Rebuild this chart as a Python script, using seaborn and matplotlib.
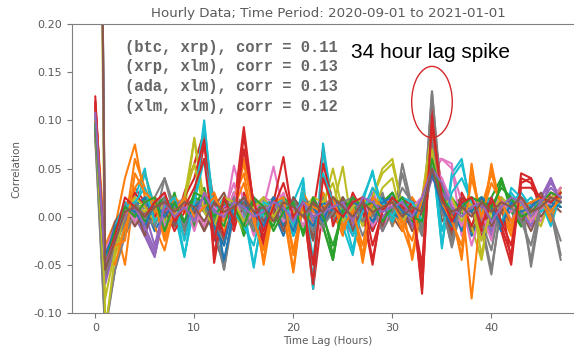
import numpy as np
import pandas as pd
import seaborn as sns
import matplotlib
matplotlib.use("Agg")
import matplotlib.pyplot as plt
from matplotlib.patches import Ellipse

# cross-correlation by lag (hours 0..47), values in thousandths
btc_btc = [1000, -50, -20, -10, 5, 10, -15, 5, 20, -10, 15, 10, -20, -50, 5, 20,
           -10, 15, 5, -20, 10, 5, -15, 25, -5, 15, -10, 5, 20, -15, 10, 5,
           -10, 5, 50, 10, -5, 15, -20, 5, -15, 10, 20, -10, 5, 15, -5, 20]
btc_eth = [105, -40, -10, 40, 75, 20, -10, -35, 10, 15, -5, 25, 5, -15, 10, 60,
           15, -50, 10, 5, -58, 20, -10, 15, 5, -20, 15, -48, 10, 20, -10, 15,
           -45, 10, 75, 20, 5, -45, 55, -10, 55, 5, -20, 15, 10, -5, 20, 25]
btc_xrp = [95, -55, -25, -5, 10, 5, 15, -5, 25, -15, 10, 30, -10, 5, 15, -20,
           10, 20, -5, 15, 5, -15, 10, -10, -45, 15, 5, 20, -10, 5, 15, -5,
           10, -15, 50, 25, -10, 5, 15, 20, -5, 40, 10, -10, 15, 5, 20, 10]
btc_ada = [125, -60, -30, 10, 30, 15, -5, 20, -10, 25, 55, 88, -48, 10, -15, 25,
           5, -30, 20, 10, -10, 15, -75, 10, 20, -10, 25, 5, -50, 15, 10, -5,
           20, -80, 115, 10, -15, 25, 5, -20, 10, -15, -50, 40, 35, 10, 20, 15]
btc_xlm = [110, -45, -15, 5, 0, -20, -42, 10, 5, 15, -10, 20, 10, -5, 25, 0,
           15, -10, 5, 20, -15, 10, 5, -5, 15, 0, -20, 10, 25, -10, 5, 20,
           -5, 15, 40, 30, 0, -10, 20, 5, -20, 15, 5, 10, -10, 20, 40, 15]
eth_btc = [90, -35, -10, 0, 15, -10, 5, 20, -5, 10, 20, -15, 5, -25, 15, 10,
           -5, 20, 0, -10, 15, 5, -20, 10, 5, 15, -10, 20, -5, 10, 0, -15,
           15, 5, 60, -5, 10, 20, -15, 5, 10, -10, 20, 5, -15, 10, 15, 5]
eth_eth = [1000, -45, -25, 5, -10, 20, 10, -15, 15, 5, -10, 20, 10, -5, 53, 15,
           -20, 10, 5, 25, -10, 15, 5, -15, 20, 10, -15, 5, 30, -5, 15, 0,
           -10, 20, 45, 60, 55, -20, 10, -25, 15, 5, -10, 20, 10, -5, 15, 30]
eth_xrp = [85, -115, -55, -15, 10, -5, 20, 40, 0, -20, 15, 10, 25, -55, 5, 15,
           -10, 5, 20, -5, 15, 0, -15, 20, -5, 15, 10, -20, 5, 25, -10, 55,
           10, -15, 130, 15, -32, 10, 5, -10, -60, 15, 5, 20, -52, 10, 5, -45]
eth_ada = [100, -50, -20, 10, -5, 15, 5, -10, 20, 5, 82, 15, -10, 10, 5, -15,
           15, 0, 10, -10, 20, 5, -5, 15, 10, 52, -15, 5, 20, 50, 60, 10,
           -5, 15, 95, 20, 0, 15, -10, -45, 10, 20, -5, 15, 5, -10, 20, 25]
eth_xlm = [100, -40, -15, 0, 20, 50, -10, 15, 5, -42, 20, 100, -5, 15, 10, 5,
           -53, 10, 20, -5, 15, 40, -75, 76, 5, -10, -40, 15, 48, -5, 10, 20,
           5, 10, 70, -33, 45, 60, 5, 15, 10, -15, 30, 20, 5, 15, -10, 25]
xrp_btc = [95, -50, -20, 5, 10, -15, 5, 20, -10, 15, 0, 20, -15, -50, 10, 5,
           20, -5, 15, 10, -20, 5, 15, -10, 10, -5, 20, 5, -15, 10, 25, 0,
           -10, 20, 55, 5, 10, -15, 20, 10, 5, -15, 10, 20, -5, 15, 10, 20]
xrp_eth = [115, -30, -5, -50, 30, 45, 10, -20, 15, 5, -10, 25, 10, -5, 20, 45,
           -10, 15, 5, 20, -40, 10, -5, 25, 0, 15, -10, -40, 5, 20, 10, -15,
           20, 5, 65, 15, -10, 20, -85, 10, 45, 10, -10, 15, 5, 20, -5, 30]
xrp_xrp = [1000, -60, -15, 10, -5, 20, 15, -10, 5, 20, -10, 15, 5, -10, 25, 10,
           -15, 5, 20, 10, -5, 15, 0, -10, -45, 20, 5, 10, -10, 15, 25, 5,
           -5, 10, 50, 15, 20, 5, -10, 15, 20, 40, 5, -10, 15, 10, 25, 20]
xrp_ada = [120, -55, -25, 15, 5, -10, 20, 10, -15, 5, 20, 75, 15, -20, 10, 93,
           10, -20, 5, 15, -10, 20, 5, 70, -10, 15, 5, 20, -15, 10, 5, 20,
           10, -60, 110, 25, 0, 15, -10, 20, 5, 15, -45, 45, 40, 5, 25, 20]
xrp_xlm = [105, -45, -20, 0, 15, 5, -30, 10, 15, -5, 10, 20, -5, 15, 5, 10,
           -5, 15, 10, -10, 5, 20, -5, 10, 20, 5, -10, 15, 10, -5, 20, 5,
           15, 10, 45, 30, 5, -5, 15, 10, -10, 20, 10, -5, 15, 5, 40, 15]
ada_btc = [90, -40, -5, 10, -10, 5, 15, 0, 10, -5, 15, 5, -10, 20, 0, 15,
           5, -10, 15, 10, -5, 10, 15, -5, 10, 20, -5, 5, 15, -10, 5, 10,
           0, 15, 55, 10, -5, 15, 5, -10, 15, 5, -5, 20, 10, 0, 15, 10]
ada_eth = [100, -35, -10, 5, 20, -5, 10, 25, -5, 15, 10, -10, 20, 5, 35, -5,
           20, 10, 52, 5, -15, 15, 10, -5, 15, -10, 20, 5, 10, -15, 15, 5,
           10, 20, 60, 60, 50, 15, -30, 5, 10, 20, -5, 15, 10, 5, 20, 30]
ada_xrp = [80, -120, -55, -20, 5, 15, -5, 40, 10, -15, 20, 5, -10, -55, 15, 10,
           -10, 20, 5, 10, -15, 5, 20, -5, 15, -10, 5, 20, 0, 15, -5, 45,
           5, -20, 130, 10, -30, 20, 5, -5, -55, 10, 20, 5, -45, 15, 10, -40]
ada_ada = [1000, -120, -40, -10, 15, 5, 20, -5, 10, 20, 80, 10, -5, 15, 20, -10,
           10, 15, -5, 20, 5, -10, 15, 10, 50, 5, 15, -10, 20, 45, 55, 10,
           5, 20, 90, 15, 10, 5, 20, -40, 15, 5, 20, 10, -5, 20, 15, 30]
ada_xlm = [100, -50, -10, 15, 5, 45, 10, -10, 15, -40, 10, 95, 5, 20, -5, 10,
           -50, 5, 15, 10, -20, 35, -70, 70, 10, 5, -35, 20, 45, 10, -5, 15,
           10, 5, 65, -30, 40, 55, 10, 20, 15, -10, 25, 10, 20, 5, 15, 20]
xlm_btc = [95, -45, -10, 0, 10, 20, -5, 10, 20, -10, 5, 15, 10, -45, 5, 20,
           -5, 10, 15, -10, 20, 5, -10, 15, 5, 15, 0, 10, -10, 20, 5, -5,
           15, 10, 50, 5, -5, 20, 10, 5, 15, -5, 10, 20, 5, 15, 10, 15]
xlm_eth = [110, -35, -50, -10, 60, 30, 5, -15, 20, 10, -5, 15, 25, 0, 15, 55,
           5, -45, 20, 10, -55, 25, 5, 10, 15, -15, 10, -40, 15, 5, 20, -10,
           -40, 15, 70, 10, 0, -40, 50, -5, 50, 10, -15, 20, 5, 15, 0, 25]
xlm_xrp = [100, -60, -20, 5, 15, -5, 10, 20, 10, -10, 20, 15, -5, 10, 20, -15,
           15, 5, -10, 20, 10, -10, 15, 5, -40, 10, 15, -5, 20, 10, 0, 15,
           5, -10, 55, 30, -5, 15, 10, 20, 5, 35, 15, -5, 10, 20, 15, 25]
xlm_ada = [115, -65, -35, 5, 25, 10, 0, 15, -5, 20, 40, 80, -40, 15, -10, 85,
           10, -25, 15, 62, -5, 10, -70, 55, 15, -5, 20, 10, -45, 10, 15, 0,
           15, -75, 105, 15, -10, 20, 10, -15, 15, -10, -40, 35, 40, 15, 20, 20]
xlm_xlm = [1000, -70, -30, 0, 10, -15, -40, 5, 10, 20, -5, 15, 5, 10, 20, -5,
           10, -5, 20, 15, -10, 5, 10, 0, 15, 10, -15, 5, 20, 0, 10, 15,
           -10, 5, 40, 25, 10, -5, 15, 0, -15, 10, 15, 5, -10, 20, 35, 20]
btc_ltc = [88, -40, -15, 5, 10, -20, 15, 5, -10, 20, 5, -15, 10, 25, -5, 10,
           15, -5, 10, -15, 20, 5, -25, 10, 0, 20, -15, 10, 5, -10, 20, 10,
           -15, 5, 45, 15, -20, 10, 5, 15, -10, 5, 20, -5, 10, 25, 5, 15]
eth_ltc = [105, -55, -20, 10, -5, 15, 20, -10, 5, 15, -15, 20, 10, 0, 25, -10,
           5, 20, 15, -5, 10, -10, 20, 5, 15, -5, 10, 20, -10, 5, 15, -5,
           10, 20, 55, 40, 15, -10, 20, 5, -25, 15, 5, 20, -5, 10, 15, 30]
xrp_ltc = [92, -60, -30, -5, 15, 0, -10, 20, 5, -10, 15, 10, -5, -30, 20, 5,
           -15, 10, 15, 0, -10, 20, 10, -10, 5, 15, 20, -5, 10, -15, 5, 30,
           15, -10, 80, 5, -25, 15, 10, -5, -35, 20, 10, -5, -30, 15, 5, -25]
ada_ltc = [98, -85, -35, 5, 20, 10, -5, 15, 0, 20, 55, 5, -10, 20, 15, -5,
           10, 20, 0, 15, -10, 5, 20, 15, 35, -5, 10, 20, 5, 30, 40, -5,
           10, 15, 70, 10, 20, -5, 15, -25, 5, 20, 10, 15, 0, 15, 20, 25]
xlm_ltc = [102, -45, -20, 10, 15, 30, -5, 10, 20, -25, 15, 60, 0, 15, 5, -10,
           -30, 15, 10, 20, -10, 25, -45, 45, 15, 10, -20, 5, 30, 15, 0, 20,
           15, -5, 60, -15, 25, 40, 15, 5, 20, -5, 15, 25, 10, 20, 5, 15]
ltc_btc = [96, -40, -15, 10, 5, -10, 15, 0, 15, -5, 10, 20, -10, -30, 15, 10,
           5, -10, 20, 5, -15, 15, 10, -5, 20, 0, 15, 10, -5, 15, 20, 5,
           0, 10, 45, 10, -10, 15, 5, 20, 10, -10, 15, 5, 10, 20, 15, 10]
ltc_eth = [100, -45, -30, -25, 45, 25, 15, -25, 5, 20, 0, 10, 20, 5, 10, 35,
           -5, -35, 15, 20, -35, 15, 10, 5, 20, -10, 5, -30, 20, 10, 15, -5,
           -25, 20, 60, 15, -5, -30, 40, 0, 35, 15, -5, 10, 15, 20, 5, 20]
ltc_xrp = [97, -50, -15, 10, 0, 15, 20, -15, 15, -5, 25, 20, 0, 15, 10, -10,
           20, 10, -15, 5, 15, -20, 20, 0, -30, 5, 20, 10, 15, -5, 10, 20,
           0, -5, 60, 20, 5, 10, 20, 15, 10, 30, 20, 0, 5, 15, 25, 20]
ltc_ada = [118, -50, -20, 20, 10, 0, 15, 25, -5, 10, 30, 60, -25, 20, -5, 70,
           15, -15, 10, 35, 0, 15, -50, 40, 10, 0, 15, 20, -30, 5, 20, 10,
           5, -50, 95, 20, -5, 15, 20, -10, 20, -5, -30, 30, 30, 20, 15, 25]
ltc_xlm = [108, -50, -25, 5, 10, -10, -35, 15, 0, 10, -5, 25, 5, 0, 15, 10,
           0, 5, 15, 10, -5, 15, 0, 5, 10, 15, -5, 20, 15, 5, 10, 15,
           0, 20, 50, 35, 10, 0, 10, 15, -5, 10, 20, 15, 0, 15, 30, 20]
ltc_ltc = [1000, -55, -25, 5, 10, 0, 10, 15, 5, 15, 10, -5, 15, 5, 10, 20,
           5, 10, -5, 15, 10, 0, 15, 5, 20, 10, 0, 15, 5, 10, 15, 0,
           10, 5, 50, 15, 5, 10, 0, 15, 5, 15, 10, 20, 5, 10, 20, 15]

pairs = {
    "(btc, btc)": btc_btc, "(btc, eth)": btc_eth, "(btc, xrp)": btc_xrp,
    "(btc, ada)": btc_ada, "(btc, xlm)": btc_xlm, "(eth, btc)": eth_btc,
    "(eth, eth)": eth_eth, "(eth, xrp)": eth_xrp, "(eth, ada)": eth_ada,
    "(eth, xlm)": eth_xlm, "(xrp, btc)": xrp_btc, "(xrp, eth)": xrp_eth,
    "(xrp, xrp)": xrp_xrp, "(xrp, ada)": xrp_ada, "(xrp, xlm)": xrp_xlm,
    "(ada, btc)": ada_btc, "(ada, eth)": ada_eth, "(ada, xrp)": ada_xrp,
    "(ada, ada)": ada_ada, "(ada, xlm)": ada_xlm, "(xlm, btc)": xlm_btc,
    "(xlm, eth)": xlm_eth, "(xlm, xrp)": xlm_xrp, "(xlm, ada)": xlm_ada,
    "(xlm, xlm)": xlm_xlm, "(btc, ltc)": btc_ltc, "(eth, ltc)": eth_ltc,
    "(xrp, ltc)": xrp_ltc, "(ada, ltc)": ada_ltc, "(xlm, ltc)": xlm_ltc,
    "(ltc, btc)": ltc_btc, "(ltc, eth)": ltc_eth, "(ltc, xrp)": ltc_xrp,
    "(ltc, ada)": ltc_ada, "(ltc, xlm)": ltc_xlm, "(ltc, ltc)": ltc_ltc,
}
assert all(len(v) == 48 for v in pairs.values())

# the top pairs at the 34 hour lag
top_pairs = ["(btc, xrp)", "(xrp, xlm)", "(ada, xlm)", "(xlm, xlm)"]
top_corr = [0.11, 0.13, 0.13, 0.12]

rows = []
for name, vals in pairs.items():
    for lag, v in enumerate(vals):
        rows.append((name, lag, v / 1000))
df = pd.DataFrame(rows, columns=["pair", "lag", "corr"])

sns.set_style("ticks")
plt.rcParams["font.family"] = ["DejaVu Sans"]
grey = "#5a5a5a"

fig = plt.figure(figsize=(5.74, 3.52), dpi=100)
ax = fig.add_axes([72 / 574, 39 / 352, 512 / 574, 289 / 352])

tab10 = sns.color_palette("tab10")
palette = [tab10[i % 10] for i in range(len(pairs))]
sns.lineplot(data=df, x="lag", y="corr", hue="pair", palette=palette,
             legend=False, linewidth=1.5, ax=ax)

ax.set_ylim(-0.10, 0.20)
ax.set_xlim(-2.35, 49.35)
ax.set_yticks([-0.10, -0.05, 0.00, 0.05, 0.10, 0.15, 0.20])
ax.set_xticks([0, 10, 20, 30, 40])
ax.yaxis.set_major_formatter(matplotlib.ticker.FormatStrFormatter("%.2f"))
ax.tick_params(labelsize=8, colors="#777777", labelcolor=grey, length=3.5)
for s in ax.spines.values():
    s.set_color("#808080")
ax.set_xlabel("Time Lag (Hours)", fontsize=7.5, color=grey, labelpad=2)
ax.set_ylabel("Correlation", fontsize=7.5, color=grey, labelpad=9)
ax.set_title("Hourly Data; Time Period: 2020-09-01 to 2021-01-01",
             fontsize=9.6, color=grey, pad=5)

for i, (p, c) in enumerate(zip(top_pairs, top_corr)):
    ax.text(0.1035, 0.920 - i * 0.068, f"{p}, corr = {c:.2f}",
            transform=ax.transAxes, family="Liberation Mono", weight="bold",
            fontsize=11.2, color="#666666", va="center", ha="left")

ax.text(0.545, 0.882, "34 hour lag spike", transform=ax.transAxes,
        family="Liberation Sans", fontsize=15, color="black",
        va="baseline", ha="left")
ax.add_patch(Ellipse((34.0, 0.119), 4.1, 0.074, fill=False,
                     edgecolor="#d62728", linewidth=1.0, zorder=5))

fig.savefig("out.png", dpi=100)
